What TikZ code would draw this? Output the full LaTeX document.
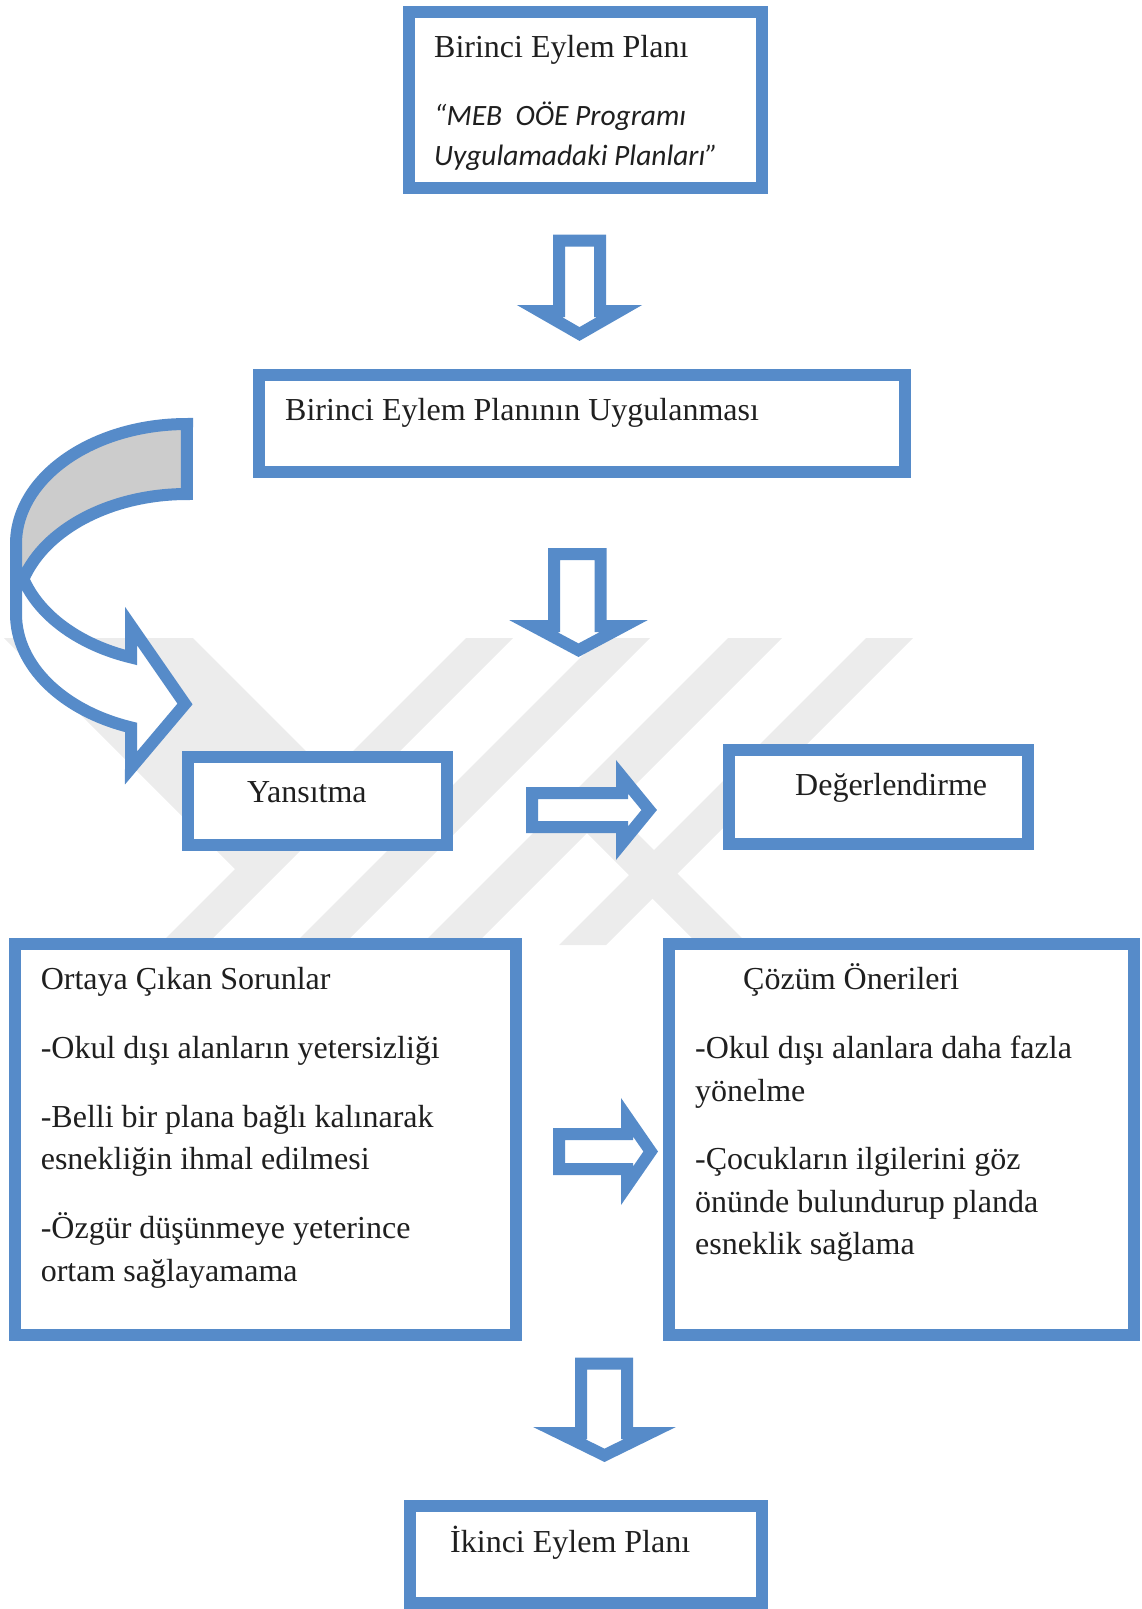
\documentclass[tikz,border=0pt]{standalone}
\usepackage{fontspec}
\setmainfont{Liberation Serif}
\newfontfamily\carlito{Carlito}
\definecolor{mblue}{RGB}{86,139,201}
\definecolor{bandgrey}{RGB}{204,204,204}
\definecolor{wmgrey}{RGB}{236,236,236}
\tikzset{
  box/.style={draw=mblue, line width=12pt, fill=white, inner sep=0pt, outer sep=0pt},
  txt/.style={anchor=base west, inner sep=0pt, font=\fontsize{32}{38}\selectfont, text=black!88},
  itxt/.style={anchor=base west, inner sep=0pt, font=\carlito\itshape\fontsize{29.5}{35}\selectfont, text=black!88},
  blockarr/.style={draw=mblue, line width=12pt, fill=white, line join=miter, miter limit=10},
  wm/.style={fill=wmgrey},
}
\begin{document}
\begin{tikzpicture}[x=1pt,y=-1pt]
\useasboundingbox (0,0) rectangle (1141,1609);

% background watermark (faint diagonal bands)
\fill[wm] (4,638) -- (193,638) -- (329.5,774.5) -- (466,638) -- (513,638) -- (206,945) -- (159,945) -- (235,869) -- cycle;
\fill[wm] (600,638) -- (650,638) -- (343,945) -- (293,945) -- cycle;
\fill[wm] (728,638) -- (782,638) -- (475,945) -- (421,945) -- cycle;
\fill[wm] (866,638) -- (913,638) -- (606,945) -- (559,945) -- cycle;
\fill[wm] (544,790) -- (594,790) -- (749,945) -- (699,945) -- cycle;

% boxes
\node[box, minimum width=353pt, minimum height=175.5pt] (b1) at (585.5,99.75) {};
\node[box, minimum width=646pt, minimum height=97pt] (b2) at (582,423.5) {};
\node[box, minimum width=259pt, minimum height=88pt] (b3) at (317.5,801) {};
\node[box, minimum width=298.5pt, minimum height=94.5pt] (b4) at (878.25,796.75) {};
\node[box, minimum width=501pt, minimum height=391pt] (b5) at (265.5,1139.5) {};
\node[box, minimum width=465pt, minimum height=391pt] (b6) at (901.5,1139.5) {};
\node[box, minimum width=352.5pt, minimum height=97pt] (b7) at (585.75,1554.5) {};

% texts
\node[txt] (t1) at (434,57) {Birinci Eylem Planı};
\node[itxt] (t1a) at (434,125) {“MEB\ \ OÖE Programı};
\node[itxt] (t1b) at (434,165) {Uygulamadaki Planları”};
\node[txt] (t2) at (285,420) {Birinci Eylem Planının Uygulanması};
\node[txt] (t3) at (247,802) {Yansıtma};
\node[txt] (t4) at (795,795) {Değerlendirme};
\node[txt] (t5) at (40.6,989) {Ortaya Çıkan Sorunlar};
\node[txt] (t5a) at (40.6,1058) {-Okul dışı alanların yetersizliği};
\node[txt] (t5b) at (40.6,1127) {-Belli bir plana bağlı kalınarak};
\node[txt] (t5c) at (40.6,1169) {esnekliğin ihmal edilmesi};
\node[txt] (t5d) at (40.6,1238) {-Özgür düşünmeye yeterince};
\node[txt] (t5e) at (40.6,1281) {ortam sağlayamama};
\node[txt] (t6) at (743,989) {Çözüm Önerileri};
\node[txt] (t6a) at (695,1058) {-Okul dışı alanlara daha fazla};
\node[txt] (t6b) at (695,1101) {yönelme};
\node[txt] (t6c) at (695,1169) {-Çocukların ilgilerini göz};
\node[txt] (t6d) at (695,1212) {önünde bulundurup planda};
\node[txt] (t6e) at (695,1254) {esneklik sağlama};
\node[txt] (t7) at (450,1552) {İkinci Eylem Planı};

% down arrows
\draw[blockarr] (559,240.5) -- (600,240.5) -- (600,311) -- (619.6,311) -- (579.5,334) -- (539.4,311) -- (559,311) -- cycle;
\draw[blockarr] (554,554) -- (600.5,554) -- (600.5,626) -- (623.9,626) -- (578.5,650.2) -- (533.1,626) -- (554,626) -- cycle;
\draw[blockarr] (581,1363.5) -- (627,1363.5) -- (627,1433) -- (650,1433) -- (604.5,1455.3) -- (559,1433) -- (581,1433) -- cycle;
% right arrows
\draw[blockarr] (532,793) -- (622,793) -- (622,776.8) -- (649.2,810) -- (622,843.2) -- (622,827) -- (532,827) -- cycle;
\draw[blockarr] (559,1134) -- (627,1134) -- (627,1117.2) -- (650.7,1151.5) -- (627,1185.8) -- (627,1169) -- (559,1169) -- cycle;

% curved arrow
\fill[white] (187,424) arc[start angle=270,end angle=180,x radius=171,y radius=120]
  -- (16,614) arc[start angle=180,end angle=109.1,x radius=171,y radius=120]
  -- (131,768) -- (185,704) -- (131,626) -- (131,657.4)
  arc[start angle=109.1,end angle=163.04,x radius=171,y radius=120]
  arc[start angle=196.96,end angle=270,x radius=171,y radius=120] -- cycle;
\fill[bandgrey] (187,424) arc[start angle=270,end angle=180,x radius=171,y radius=120]
  -- (23.4,579) arc[start angle=196.96,end angle=270,x radius=171,y radius=120] -- cycle;
\draw[draw=mblue, line width=12pt, line join=miter, miter limit=10]
  (187,424) arc[start angle=270,end angle=180,x radius=171,y radius=120]
  -- (16,614) arc[start angle=180,end angle=109.1,x radius=171,y radius=120]
  -- (131,768) -- (185,704) -- (131,626) -- (131,657.4)
  arc[start angle=109.1,end angle=163.04,x radius=171,y radius=120]
  arc[start angle=196.96,end angle=270,x radius=171,y radius=120] -- cycle;
\end{tikzpicture}
\end{document}
